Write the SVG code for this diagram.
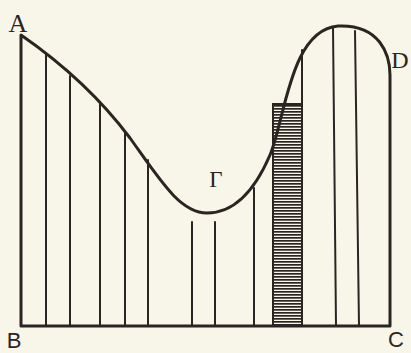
<svg xmlns="http://www.w3.org/2000/svg" width="411" height="353" viewBox="0 0 411 353">
<style>
.ink{stroke:#2b2522;fill:none;stroke-linecap:round;stroke-linejoin:round}
.frame{stroke-width:3}
.ord{stroke-width:2}
.lbl{font-family:"Liberation Serif",serif;fill:#2b2522}
.lbl2{font-family:"Liberation Sans",sans-serif;fill:#2b2522}
</style>
<defs>
<pattern id="hatch" width="29" height="3" patternUnits="userSpaceOnUse">
<rect x="0" y="0" width="29" height="1.7" fill="#2b2522"/>
</pattern>
</defs>
<rect width="411" height="353" fill="#f8f5e9"/>
<g id="hatched">
<rect x="273" y="104" width="29" height="222" fill="url(#hatch)" stroke="#2b2522" stroke-width="2"/>
</g>
<g id="ordinates" class="ink ord">
<line x1="46" y1="55" x2="46" y2="326"/>
<line x1="70" y1="76" x2="70" y2="326"/>
<line x1="100" y1="102" x2="100" y2="326"/>
<line x1="125" y1="133" x2="125" y2="326"/>
<line x1="148" y1="160" x2="148" y2="326"/>
<line x1="192" y1="222" x2="192" y2="326"/>
<line x1="215" y1="222" x2="215" y2="326"/>
<line x1="254" y1="188" x2="254" y2="326"/>
<line x1="302" y1="50" x2="302" y2="326"/>
<line x1="333" y1="27" x2="336" y2="326"/>
<line x1="355" y1="31" x2="359" y2="326"/>
</g>
<g id="outline" class="ink frame">
<path d="M21,35 C60,62 100,98 130,138 C160,180 180,213 207,213 C235,213 255,190 270,155 C285,120 290,30 338,26 C380,24 390,55 390,75 L390,326 L21,326 Z"/>
</g>
<g id="labels">
<text class="lbl" x="18" y="32" font-size="26" text-anchor="middle">A</text>
<text class="lbl" x="400" y="68" font-size="24" text-anchor="middle">D</text>
<text class="lbl" x="216" y="187" font-size="23" text-anchor="middle">Γ</text>
<text class="lbl2" x="14" y="348" font-size="22" text-anchor="middle">B</text>
<text class="lbl2" x="396" y="347" font-size="22" text-anchor="middle">C</text>
</g>
</svg>
